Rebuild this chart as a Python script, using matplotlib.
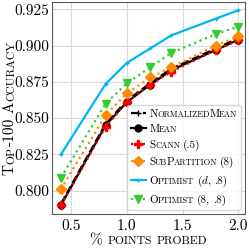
import re
import matplotlib
matplotlib.use("Agg")
import matplotlib.pyplot as plt
from matplotlib.font_manager import FontProperties
from matplotlib.offsetbox import TextArea, HPacker, DrawingArea

plt.rcParams["font.family"] = "serif"
plt.rcParams["font.serif"] = ["cmr10"]
plt.rcParams["mathtext.fontset"] = "cm"
plt.rcParams["axes.unicode_minus"] = False
plt.rcParams["axes.formatter.use_mathtext"] = True

# data
probed = [0.41, 0.81, 1.0, 1.21, 1.40, 1.80, 2.0]
normalized_mean = [0.791, 0.846, 0.862, 0.874, 0.884, 0.898, 0.905]
mean = [0.790, 0.845, 0.861, 0.873, 0.883, 0.897, 0.904]
scann = [0.790, 0.844, 0.861, 0.873, 0.882, 0.897, 0.9035]
subpartition = [0.801, 0.852, 0.867, 0.878, 0.885, 0.900, 0.9065]
optimist_d = [0.825, 0.8735, 0.888, 0.898, 0.907, 0.9186, 0.9243]
optimist_8 = [0.809, 0.860, 0.874, 0.885, 0.895, 0.908, 0.913]

labels = ["NormalizedMean", "Mean", "Scann (.5)", "SubPartition (8)",
          "Optimist ($d$, .8)", "Optimist (8, .8)"]
xticks = [0.5, 1.0, 1.5, 2.0]
yticks = [0.800, 0.825, 0.850, 0.875, 0.900, 0.925]

SC = 0.76   # small caps scale
GAP = 0.02  # gap between runs, em


def sc_runs(s):
    runs = []
    for part in re.split(r"( )", s):
        if not part:
            continue
        if part == " " or "$" in part:
            runs.append((part, 1.0))
            continue
        for ch in part:
            sc = SC if ch.islower() else 1.0
            if runs and runs[-1][1] == sc and runs[-1][0] != " " and "$" not in runs[-1][0]:
                runs[-1] = (runs[-1][0] + ch.upper(), sc)
            else:
                runs.append((ch.upper(), sc))
    return runs


def sc_box(s, size):
    kids = []
    for txt, sc in sc_runs(s):
        if txt == " ":
            kids.append(DrawingArea(0.36 * size, 0))
        else:
            kids.append(TextArea(txt, textprops=dict(fontsize=size * sc)))
    return HPacker(children=kids, align="baseline", pad=0, sep=-0.05 * size)


def sc_label(fig, s, size, x, y, vertical=False):
    # x, y in pixels: centre of the label on its baseline
    r = fig.canvas.get_renderer()
    px = fig.dpi / 72
    W, H = fig.bbox.width, fig.bbox.height
    pieces = []
    for txt, sc in sc_runs(s):
        fs = size * sc
        if txt == " ":
            w = 0.3 * size * px
        else:
            fp = FontProperties(family="serif", size=fs)
            w = r.get_text_width_height_descent(txt, fp, ismath="$" in txt)[0]
        pieces.append((txt, fs, w))
    gap = GAP * size * px
    total = sum(p[2] for p in pieces) + gap * (len(pieces) - 1)
    pos = -total / 2
    for txt, fs, w in pieces:
        if txt != " ":
            if vertical:
                fig.text(x / W, (y + pos) / H, txt, rotation=90, rotation_mode="anchor",
                         ha="left", va="baseline", fontsize=fs)
            else:
                fig.text((x + pos) / W, y / H, txt, ha="left", va="baseline", fontsize=fs)
        pos += w + gap


fig = plt.figure(figsize=(2.49, 2.49), dpi=100)
ax = fig.add_axes([0.209, 0.141, 0.775, 0.851])

ax.plot(probed, normalized_mean, color="black", ls="--", lw=1.6, marker="+", ms=4, label=labels[0])
ax.plot(probed, mean, color="black", ls="-", lw=1.6, marker="o", ms=5, label=labels[1])
ax.plot(probed, scann, color="red", ls=":", lw=1.6, marker="P", ms=6, label=labels[2])
ax.plot(probed, subpartition, color="#ff8c00", ls=":", lw=1.6, marker="D", ms=5, label=labels[3])
ax.plot(probed, optimist_d, color="#00b4f0", ls="-", lw=1.6, marker="+", ms=3, label=labels[4])
ax.plot(probed, optimist_8, color="#33cc33", ls=":", lw=1.6, marker="v", ms=6, label=labels[5])

ax.set_xlim(0.33, 2.06)
ax.set_ylim(0.784, 0.930)
ax.set_xticks(xticks)
ax.set_yticks(yticks)
ax.set_xticklabels([f"{v:.1f}" for v in xticks])
ax.set_yticklabels([f"{v:.3f}" for v in yticks])
ax.tick_params(length=0, labelsize=11)
ax.tick_params(axis="y", pad=2)
ax.tick_params(axis="x", pad=4)
ax.grid(True, color="0.85", lw=0.8)
ax.set_axisbelow(True)
for sp in ax.spines.values():
    sp.set_color("0.35")

leg = ax.legend(loc="lower right", fontsize=8, handlelength=1.4, handletextpad=0.3,
                borderpad=0.35, labelspacing=0.5, borderaxespad=0.35)
for col in leg._legend_handle_box.get_children():
    for item, lab in zip(col.get_children(), labels):
        box = sc_box(lab, 8)
        box.set_figure(fig)
        box.axes = ax
        item.get_children()[1] = box

fig.canvas.draw()
axb = ax.get_window_extent()
sc_label(fig, "% points probed", 11, (axb.x0 + axb.x1) / 2, 5)
sc_label(fig, "Top-100 Accuracy", 11, 14, (axb.y0 + axb.y1) / 2, vertical=True)

fig.savefig("out.png", dpi=100)
